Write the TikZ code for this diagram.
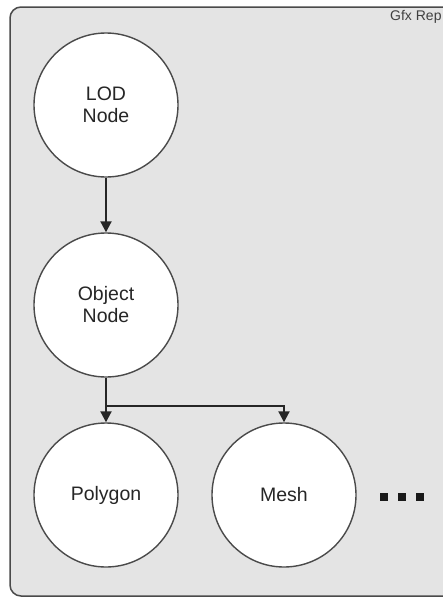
\documentclass[tikz,border=0pt]{standalone}
\usepackage{fontspec}
\setmainfont{Liberation Sans}
\usetikzlibrary{arrows.meta}
\definecolor{panel}{HTML}{E4E4E4}
\definecolor{edge}{HTML}{4A4A4A}
\begin{document}
\begin{tikzpicture}[x=1pt,y=-1pt,
  circ/.style={circle,draw=edge,line width=1.4pt,fill=white,minimum size=144pt,inner sep=0pt,align=center,font=\fontsize{19.5}{22}\selectfont,text=black!85},
  conn/.style={line width=2pt,black!85,-{Triangle[length=11pt,width=11pt]}},
  dot/.style={fill=black!90,minimum size=8pt,inner sep=0pt}]
\useasboundingbox (0,0) rectangle (443,598);
\begin{scope}
\clip (0,0) rectangle (443,598);
\draw[fill=panel,draw=edge,line width=1.5pt,rounded corners=11pt] (10,7) rectangle (470,596);
\node[anchor=base west,font=\fontsize{14}{16}\selectfont,text=black!75,inner sep=0pt] (title) at (390,20) {Gfx Rep};
\end{scope}
\node[circ] (lod) at (106,105) {LOD\\Node};
\node[circ] (obj) at (106,305) {Object\\Node};
\node[circ] (poly) at (106,495) {Polygon};
\node[circ] (mesh) at (284,495) {Mesh};
\coordinate (split) at (106,406);
\draw[conn] (lod) -- (obj);
\draw[conn] (obj.south) -- (poly.north);
\draw[conn,shorten <=-1pt] (split) -| (mesh.north);
\node[dot] (d1) at (384,497) {};
\node[dot] (d2) at (402,497) {};
\node[dot] (d3) at (420,497) {};
\end{tikzpicture}
\end{document}
